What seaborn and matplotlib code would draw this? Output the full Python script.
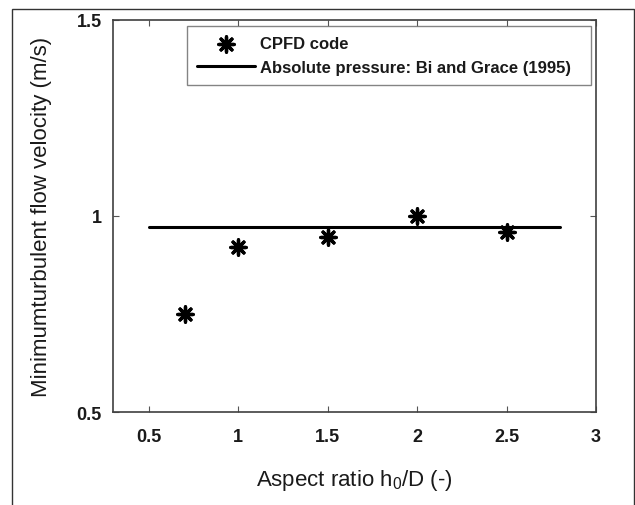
import matplotlib
matplotlib.use("Agg")
import matplotlib.pyplot as plt
from matplotlib.patches import Rectangle
import seaborn as sns
import pandas as pd

# CPFD simulation results
aspect_ratio = [0.7, 1.0, 1.5, 2.0, 2.5]
u_turb_cpfd = [0.75, 0.92, 0.947, 1.0, 0.96]

# Bi and Grace (1995) correlation, absolute pressure
corr_x = [0.5, 2.8]
corr_y = [0.972, 0.972]

x_ticks = [0.5, 1, 1.5, 2, 2.5, 3]
x_tick_labels = ["0.5", "1", "1.5", "2", "2.5", "3"]
y_ticks = [0.5, 1, 1.5]
y_tick_labels = ["0.5", "1", "1.5"]

sns.set_theme(style="white")
plt.rcParams["font.family"] = ["Liberation Sans", "DejaVu Sans"]
plt.rcParams["text.color"] = "#1a1a1a"
plt.rcParams["axes.labelcolor"] = "#1a1a1a"

fig = plt.figure(figsize=(6.35, 5.06), dpi=100)
ax = fig.add_axes([0.178, 0.1832, 0.7606, 0.7759])

cpfd = pd.DataFrame({"x": aspect_ratio, "y": u_turb_cpfd})
corr = pd.DataFrame({"x": corr_x, "y": corr_y})

sns.scatterplot(data=cpfd, x="x", y="y", ax=ax, marker=(8, 2, 0), s=120,
                color="black", edgecolor="black", linewidth=2.4,
                label="CPFD code", zorder=3)
sns.lineplot(data=corr, x="x", y="y", ax=ax, color="black", linewidth=2.2,
             label="Absolute pressure: Bi and Grace (1995)")

ax.set_xlim(0.3, 3)
ax.set_ylim(0.5, 1.5)
ax.set_xticks(x_ticks)
ax.set_xticklabels(x_tick_labels, fontweight="bold", fontsize=13, color="#1a1a1a")
ax.set_yticks(y_ticks)
ax.set_yticklabels(y_tick_labels, fontweight="bold", fontsize=13, color="#1a1a1a")
ax.tick_params(direction="in", length=4, width=0.8, color="#555555",
               top=True, right=True, bottom=True, left=True)
ax.tick_params(axis="x", pad=11)
ax.tick_params(axis="y", pad=8)

for sp in ax.spines.values():
    sp.set_color("#404040")
    sp.set_linewidth(1.2)

ax.set_xlabel("Aspect ratio h$_\\mathregular{0}$/D (-)", fontsize=16, labelpad=16)
ax.set_ylabel("Minimumturbulent flow velocity (m/s)", fontsize=16, labelpad=18)

leg = ax.legend(loc="upper left", bbox_to_anchor=(0.1532, 0.5, 0.8364, 0.484),
                mode="expand", prop={"weight": "bold", "size": 12}, frameon=True,
                fancybox=False, edgecolor="#666666", borderpad=0.6,
                handlelength=3.5, handletextpad=0.25, labelspacing=0.55,
                borderaxespad=0)
leg.get_frame().set_linewidth(1.0)

# outer figure frame
fig.patches.append(Rectangle((12 / 635, -0.1), (634 - 12) / 635, 1.1 - 10 / 506,
                             transform=fig.transFigure, fill=False,
                             edgecolor="#333333", linewidth=1.0))

fig.savefig("out.png", dpi=100, facecolor="white")
